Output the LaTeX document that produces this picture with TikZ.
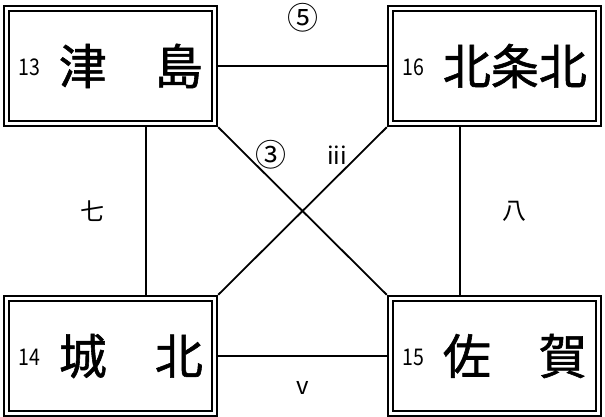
\documentclass[tikz,border=0pt]{standalone}
\usepackage{fontspec}
\setmainfont{Noto Sans CJK JP}
\newfontfamily\boldjp[FakeBold=1.2]{Noto Sans CJK JP}
\usetikzlibrary{positioning}
\newcommand{\stnum}[1]{\raisebox{9pt}{\scalebox{0.85}[1]{\fontsize{23}{23}\selectfont #1}}}
\newcommand{\stname}[1]{{\boldjp\fontsize{48}{48}\selectfont #1}}

\begin{document}
\begin{tikzpicture}[
    x=1pt, y=-1pt,
    station/.style={draw, line width=2.3pt, double=white, double distance=3pt, minimum width=207.7pt, minimum height=114.7pt, inner sep=0pt, outer sep=3.8pt},
    track/.style={line width=1.8pt},
    lbl/.style={font=\fontsize{24}{24}\selectfont, inner sep=1pt},
    circ/.style={font=\fontsize{31}{31}\selectfont, inner sep=1pt}
  ]
  \useasboundingbox (0,0) rectangle (605,416);

  % --- STATIONS ---
  \node[station] (tsushima) at (110.5,66) {\stnum{13}\hspace{19pt}\stname{津　島}};
  \node[station] (hokujo) at (494.5,66) {\stnum{16}\hspace{19pt}\stname{北条北}};
  \node[station] (jouhoku) at (110.5,356) {\stnum{14}\hspace{19pt}\stname{城　北}};
  \node[station] (saga) at (494.5,356) {\stnum{15}\hspace{19pt}\stname{佐　賀}};

  % --- TRACKS ---
  \draw[track] (tsushima) -- node[circ, above=32pt]{⑤} (hokujo);
  \draw[track] (jouhoku) -- node[lbl, below=24pt]{v} (saga);
  \draw[track] ([xshift=35.5pt]tsushima.south) -- node[lbl, left=40pt]{七} ([xshift=35.5pt]jouhoku.north);
  \draw[track] ([xshift=-34.5pt]hokujo.south) -- node[lbl, right=41pt]{八} ([xshift=-34.5pt]saga.north);

  % diagonals
  \draw[track] (tsushima.south east) -- node[circ, pos=.165, right=8pt]{③} (saga.north west);
  \draw[track] (hokujo.south west) -- node[lbl, pos=.165, left=10pt]{iii} (jouhoku.north east);

\end{tikzpicture}
\end{document}
